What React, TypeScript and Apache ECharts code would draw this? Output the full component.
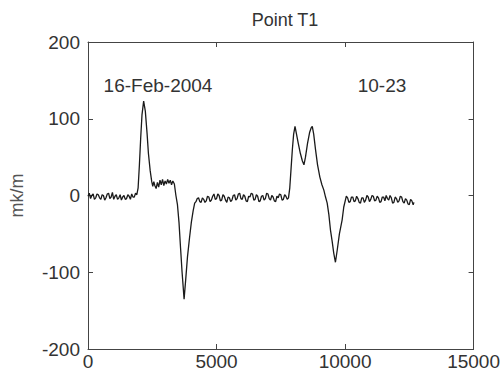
import React, { useEffect, useRef } from "react";
import * as echarts from "echarts";

const titleText = "Point T1";
const yAxisName = "mk/m";
const dateLabel = "16-Feb-2004";
const timeLabel = "10-23";

const xTicks = [0, 5000, 10000, 15000];
const yTicks = [-200, -100, 0, 100, 200];

// baseline before first event
const baselineA: [number, number][] = [
  [0, -1], [50, 3], [100, -4], [150, 0], [200, 2], [250, -5], [300, -3], [350, 2],
  [400, 1], [450, -3], [500, -5], [550, 1], [600, 0], [650, -6], [700, -3], [750, 2],
  [800, 3], [850, -4], [900, -2], [950, 4], [1000, -5], [1050, -1], [1100, 1], [1150, -5],
  [1200, -3], [1250, 1], [1300, -6], [1350, -2], [1400, 0], [1450, -5], [1500, -4],
  [1550, 1], [1600, -1], [1650, -5], [1700, 2], [1750, -2], [1800, -2], [1850, 3], [1900, 1],
];

// first event: positive peak, plateau, negative dip
const eventA: [number, number][] = [
  [1950, 10], [2000, 40], [2050, 75], [2100, 105], [2165, 123], [2230, 110], [2300, 80],
  [2350, 55], [2420, 32], [2480, 18], [2520, 12], [2560, 18], [2600, 13], [2650, 9],
  [2700, 17], [2750, 11], [2800, 20], [2850, 14], [2900, 21], [2950, 13], [3000, 19],
  [3050, 15], [3100, 21], [3150, 16], [3200, 20], [3250, 14], [3300, 19], [3360, 15],
  [3420, 0], [3480, -12], [3540, -35], [3600, -68], [3660, -100], [3738, -135],
  [3800, -110], [3870, -80], [3950, -55], [4020, -35], [4090, -20], [4150, -10],
];

// baseline between events
const baselineB: [number, number][] = [
  [4200, -8], [4250, -4], [4300, -3], [4350, -8], [4400, -9], [4450, -3], [4500, -5],
  [4550, -9], [4600, -7], [4650, -1], [4700, -2], [4750, -8], [4800, -6], [4850, -1],
  [4900, 2], [4950, -5], [5000, -4], [5050, 2], [5100, 0], [5150, -7], [5200, -6],
  [5250, 1], [5300, -1], [5350, -6], [5400, -9], [5450, -2], [5500, -3], [5550, -8],
  [5600, -6], [5650, 0], [5700, 1], [5750, -6], [5800, -4], [5850, 2], [5900, 3],
  [5950, -4], [6000, -5], [6050, 1], [6100, -1], [6150, -7], [6200, -8], [6250, -1],
  [6300, -2], [6350, 3], [6400, 2], [6450, -6], [6500, -5], [6550, 1], [6600, -1],
  [6650, -8], [6700, -7], [6750, -1], [6800, 0], [6850, -6], [6900, -4], [6950, 3],
  [7000, 2], [7050, -4], [7100, -6], [7150, 0], [7200, -2], [7250, -7], [7300, -8],
  [7350, -1], [7400, -3], [7450, 2], [7500, 1], [7550, -6], [7600, -5], [7650, 1],
  [7700, -1], [7750, -5], [7800, -3],
];

// second event: double peak then negative dip
const eventB: [number, number][] = [
  [7850, 10], [7900, 35], [7950, 60], [8000, 80], [8053, 90], [8100, 82], [8180, 68],
  [8260, 55], [8340, 45], [8401, 40], [8460, 50], [8540, 68], [8620, 82], [8680, 88],
  [8725, 90], [8780, 80], [8850, 60], [8930, 40], [9020, 24], [9100, 14], [9175, 7],
  [9240, -2], [9305, -10], [9370, -25], [9433, -45], [9500, -60], [9560, -75],
  [9626, -87], [9700, -70], [9780, -50], [9885, -32], [9950, -15], [10013, -6],
];

// baseline after second event
const baselineC: [number, number][] = [
  [10050, -1], [10100, -3], [10150, -9], [10200, -8], [10250, -2], [10300, -2],
  [10350, -8], [10400, -7], [10450, -1], [10500, -4], [10550, -9], [10600, -10],
  [10650, -3], [10700, -3], [10750, -9], [10800, -6], [10850, 0], [10900, -2],
  [10950, -8], [11000, -5], [11050, 0], [11100, -1], [11150, -7], [11200, -6],
  [11250, -1], [11300, -3], [11350, -9], [11400, -8], [11450, -2], [11500, -2],
  [11550, -7], [11600, 0], [11650, -4], [11700, -6], [11750, 0], [11800, -3],
  [11850, -10], [11900, -9], [11950, -2], [12000, -4], [12050, -9], [12100, -7],
  [12150, -1], [12200, -2], [12250, -8], [12300, -10], [12350, -4], [12400, -6],
  [12450, -11], [12500, -12], [12550, -5], [12600, -7], [12650, -12], [12680, -9],
];

const FONT = "'Liberation Sans', Arial, sans-serif";
const TXT = "#333";

export default function App() {
  const ref = useRef<HTMLDivElement>(null);
  useEffect(() => {
    if (!ref.current) return;
    const chart = echarts.init(ref.current, null, { renderer: "svg" });
    const data = [...baselineA, ...eventA, ...baselineB, ...eventB, ...baselineC];
    const xMin = xTicks[0];
    const xMax = xTicks[xTicks.length - 1];
    const yMin = yTicks[0];
    const yMax = yTicks[yTicks.length - 1];
    const axisLine = { show: true, onZero: false, lineStyle: { color: "#444", width: 1 } };
    const axisTick = { show: true, inside: true, length: 5, lineStyle: { color: "#444" } };
    const label = { color: TXT, fontSize: 19, fontFamily: FONT, formatter: (v: number) => String(v) };
    chart.setOption({
      animation: false,
      backgroundColor: "#fff",
      title: {
        text: titleText,
        left: 280,
        top: 6,
        textAlign: "center",
        textStyle: { color: TXT, fontSize: 18, fontWeight: "normal", fontFamily: FONT },
      },
      grid: { left: 86, right: 29, top: 42, bottom: 29 },
      xAxis: [
        {
          type: "value", position: "bottom", min: xMin, max: xMax, interval: 5000,
          axisLine, axisTick, splitLine: { show: false },
          axisLabel: { ...label, margin: 3, showMaxLabel: true, showMinLabel: true },
        },
        {
          type: "value", position: "top", min: xMin, max: xMax, interval: 5000,
          axisLine, axisTick, splitLine: { show: false }, axisLabel: { show: false },
        },
      ],
      yAxis: [
        {
          type: "value", position: "left", min: yMin, max: yMax, interval: 100,
          axisLine, axisTick, splitLine: { show: false },
          axisLabel: { ...label, margin: 8 },
          name: yAxisName, nameLocation: "middle", nameGap: 62,
          nameTextStyle: { color: "#555", fontSize: 18, fontFamily: FONT },
        },
        {
          type: "value", position: "right", min: yMin, max: yMax, interval: 100,
          axisLine, axisTick, splitLine: { show: false }, axisLabel: { show: false },
        },
      ],
      graphic: [
        {
          type: "text", x: 158, y: 85,
          style: { text: dateLabel, fill: TXT, fontSize: 19, fontFamily: FONT, align: "center", verticalAlign: "middle" },
        },
        {
          type: "text", x: 382, y: 85,
          style: { text: timeLabel, fill: TXT, fontSize: 19, fontFamily: FONT, align: "center", verticalAlign: "middle" },
        },
      ],
      series: [
        {
          type: "line",
          xAxisIndex: 0,
          yAxisIndex: 0,
          data,
          showSymbol: false,
          symbol: "none",
          lineStyle: { color: "#1a1a1a", width: 1.3 },
        },
      ],
    });
    return () => chart.dispose();
  }, []);
  return <div ref={ref} style={{ position: "absolute", left: 0, top: 0, width: 503, height: 378 }} />;
}
